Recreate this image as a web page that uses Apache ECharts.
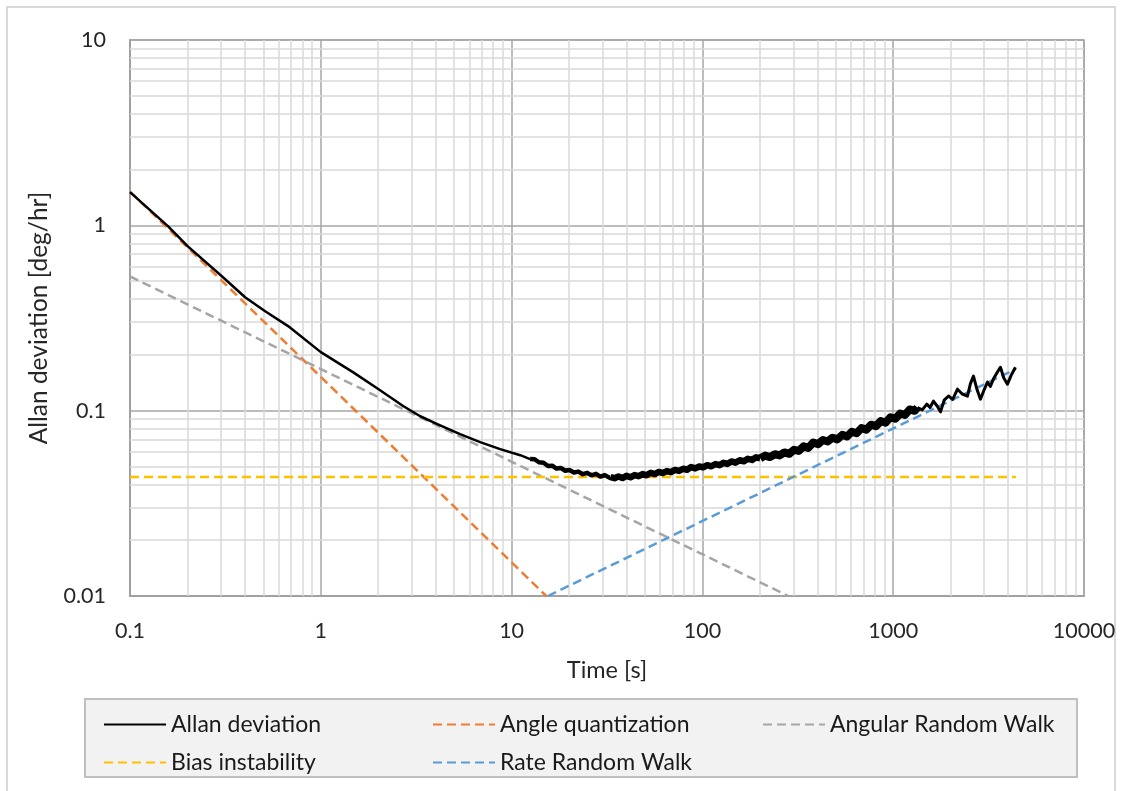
<!DOCTYPE html>
<html><head><meta charset="utf-8">
<script src="https://cdn.jsdelivr.net/npm/echarts@6/dist/echarts.min.js"></script>
<style>html,body{margin:0;padding:0;background:#fff}#c{width:1122px;height:791px}</style>
</head><body><div id="c"></div>
<script>
// ---- data ----
const xRange = [0.1, 10000];
const yRange = [0.01, 10];
const xMinorGrid = [0.2,0.3,0.4,0.5,0.6,0.7,0.8,0.9,2,3,4,5,6,7,8,9,20,30,40,50,60,70,80,90,200,300,400,500,600,700,800,900,2000,3000,4000,5000,6000,7000,8000,9000];
const yMinorGrid = [0.02,0.03,0.04,0.05,0.06,0.07,0.08,0.09,0.2,0.3,0.4,0.5,0.6,0.7,0.8,0.9,2,3,4,5,6,7,8,9];

// Allan deviation curve: thin start, noisy thick middle, wiggly end
const allanStart = [[0.1,1.51],[0.158,0.99],[0.201,0.77],[0.303,0.531],[0.401,0.409],[0.511,0.344],[0.674,0.286],[1.0,0.207],[1.48,0.161],[2.0,0.131],[2.7,0.106],[3.32,0.0933],[4.08,0.0846],[5.37,0.0747],[6.84,0.0676],[8.71,0.062],[11.1,0.0575],[12.5,0.0548]];
const allanMid1 = [[12.5,0.0548],[13.2,0.0547],[13.9,0.0527],[14.7,0.0524],[15.5,0.0503],[16.3,0.0505],[17.2,0.0487],[18.1,0.0491],[19.1,0.0474],[20.1,0.0478],[21.2,0.0464],[22.4,0.0469],[23.6,0.0454],[24.9,0.0462],[26.2,0.0448],[27.7,0.0456],[29.2,0.0441],[30.8,0.0449],[32.5,0.0435],[33.0,0.0438]];
const allanMid2 = [[33.0,0.0438],[34.6,0.0432],[36.3,0.0441],[38.1,0.0433],[40.0,0.0445],[42.0,0.0437],[44.1,0.0449],[46.3,0.0443],[48.6,0.0455],[51.0,0.0448],[53.6,0.0462],[56.3,0.0455],[59.1,0.0467],[62.0,0.0461],[65.1,0.0472],[68.4,0.0466],[71.8,0.0479],[75.4,0.0473],[79.2,0.0486],[83.1,0.0480],[87.3,0.0496],[91.7,0.0488],[96.3,0.0500],[101,0.0495],[106,0.0508],[111,0.0501],[117,0.0515],[123,0.0508],[129,0.0523],[135,0.0516],[142,0.0532],[149,0.0524],[157,0.0540],[165,0.0533],[173,0.0550],[182,0.0542],[191,0.0560],[201,0.0553]];
const allanMid3 = [[201,0.0553],[213,0.0572],[226,0.0562],[240,0.0582],[254,0.0573],[269,0.0595],[285,0.0585],[302,0.0615],[320,0.0606],[339,0.0642],[359,0.0630],[381,0.0673],[404,0.0660],[428,0.0695],[454,0.0682],[481,0.0715],[510,0.0700],[541,0.0740],[573,0.0725],[607,0.0770],[643,0.0755],[682,0.0805],[723,0.0790],[766,0.0840],[812,0.0825],[861,0.0878],[913,0.0862],[968,0.0922],[1026,0.0905],[1088,0.0965],[1153,0.0948],[1222,0.1015],[1295,0.0998],[1340,0.1040]];
const allanEnd = [[1340,0.1040],[1420,0.1010],[1500,0.1085],[1560,0.1040],[1625,0.1125],[1700,0.1060],[1770,0.0985],[1850,0.1140],[1950,0.1200],[2050,0.1150],[2173,0.1306],[2300,0.1230],[2450,0.1197],[2540,0.1400],[2634,0.1535],[2750,0.1300],[2866,0.1153],[3000,0.1300],[3119,0.1425],[3230,0.1350],[3350,0.1480],[3500,0.1600],[3647,0.1715],[3800,0.1500],[3970,0.1390],[4150,0.1550],[4372,0.1715]];

const angleQuant = [[0.1,1.52],[15.2,0.01]];
const angularRW = [[0.1,0.53],[282,0.01]];
const biasInst = [[0.1,0.0438],[4400,0.0438]];
const rateRW = [[15.5,0.01],[4400,0.168]];

// ---- chart ----
const FONT = 'Lato';
const chart = echarts.init(document.getElementById('c'), null, {renderer:'canvas'});
const fmt = v => String(+Number(v).toPrecision(6));
const allanStyle = w => ({type:'line', name:'Allan deviation', showSymbol:false, symbol:'none', z:6,
  color:'#000000', itemStyle:{color:'#000000'},
  lineStyle:{color:'#000000', width:w, join:'round'}, animation:false});
const dashed = (name, color, data) => ({type:'line', name, data, showSymbol:false, symbol:'none', z:5, animation:false,
  color, itemStyle:{color},
  lineStyle:{color, width:2.5, type:[9,5]}});
const legendItem = (name, left, top) => ({
  left, top, orient:'horizontal', data:[name], itemWidth:62, itemHeight:14, selectedMode:false,
  itemStyle:{opacity:0},
  textStyle:{fontFamily:FONT, fontSize:23, color:'#1a1a1a'}
});

chart.setOption({
  animation:false,
  backgroundColor:'#ffffff',
  graphic:[
    {type:'rect', shape:{x:7,y:7,width:1108,height:800}, style:{fill:'none', stroke:'#d9d9d9', lineWidth:2}, z:-10},
    {type:'rect', shape:{x:85,y:699,width:992,height:78}, style:{fill:'#f2f2f2', stroke:'#bfbfbf', lineWidth:2}, z:-5}
  ],
  grid:{left:130, right:38, top:40, bottom:195, show:true, borderColor:'#a6a6a6', borderWidth:1.5},
  xAxis:{type:'log', logBase:10, min:xRange[0], max:xRange[1],
    name:'Time [s]', nameLocation:'middle', nameGap:62,
    nameTextStyle:{fontFamily:FONT, fontSize:23.5, color:'#262626'},
    axisLine:{show:true, lineStyle:{color:'#a0a0a0', width:2}},
    axisTick:{show:false},
    axisLabel:{fontFamily:FONT, fontSize:21.5, color:'#262626', margin:24, formatter:fmt},
    splitLine:{show:true, lineStyle:{color:'#a6a6a6', width:1.5}},
    minorTick:{show:false}, minorSplitLine:{show:false}},
  yAxis:{type:'log', logBase:10, min:yRange[0], max:yRange[1],
    name:'Allan deviation [deg/hr]', nameLocation:'middle', nameGap:78, nameRotate:90,
    nameTextStyle:{fontFamily:FONT, fontSize:24.5, color:'#262626'},
    axisLine:{show:true, lineStyle:{color:'#a0a0a0', width:2}},
    axisTick:{show:false},
    axisLabel:{fontFamily:FONT, fontSize:21.5, color:'#262626', margin:24, formatter:fmt},
    splitLine:{show:true, lineStyle:{color:'#a6a6a6', width:1.5}}},
  legend:[
    legendItem('Allan deviation', 98, 708),
    legendItem('Angle quantization', 427, 708),
    legendItem('Angular Random Walk', 757, 708),
    legendItem('Bias instability', 98, 746),
    legendItem('Rate Random Walk', 427, 746)
  ],
  series:[
    {type:'line', name:'_minor', data:[], z:1, silent:true, animation:false,
      markLine:{silent:true, symbol:['none','none'], label:{show:false}, animation:false,
        lineStyle:{color:'#d9d9d9', width:1.5, type:'solid'},
        emphasis:{disabled:true},
        data:[...xMinorGrid.map(v=>({xAxis:v})), ...yMinorGrid.map(v=>({yAxis:v}))]}},
    Object.assign(allanStyle(2.5), {data:allanStart}),
    dashed('Angle quantization', '#ED7D31', angleQuant),
    dashed('Angular Random Walk', '#A5A5A5', angularRW),
    dashed('Bias instability', '#FFC000', biasInst),
    dashed('Rate Random Walk', '#5B9BD5', rateRW),
    Object.assign(allanStyle(4.5), {data:allanMid1}),
    Object.assign(allanStyle(6.5), {data:allanMid2}),
    Object.assign(allanStyle(8), {data:allanMid3}),
    Object.assign(allanStyle(3), {data:allanEnd})
  ]
});
</script></body></html>
